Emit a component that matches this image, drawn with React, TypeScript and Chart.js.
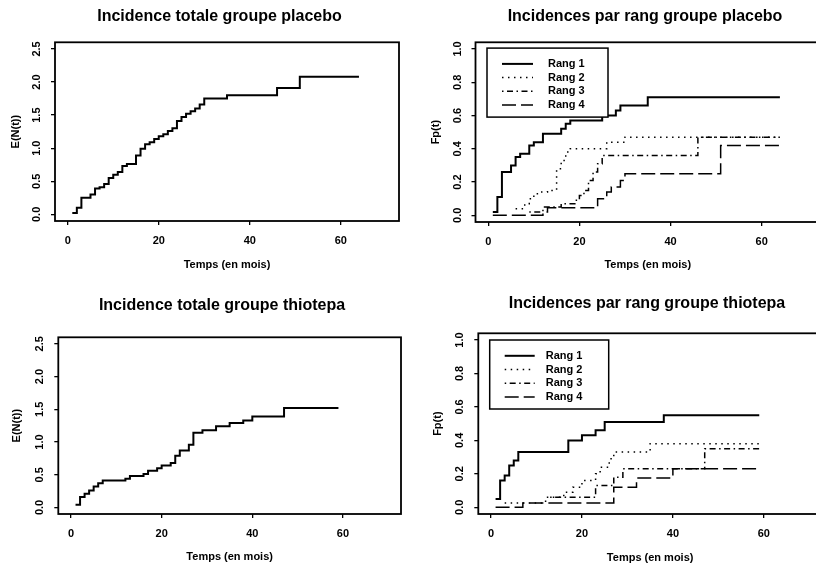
import React, { useEffect, useRef } from 'react';
import { Chart, registerables } from 'chart.js';

Chart.register(...registerables);

const FONT = "'Liberation Sans', Arial, Helvetica, sans-serif";

// ---------- data ----------
const placeboTotalT = [1, 2, 3, 5, 6, 7, 8, 9, 10, 11, 12, 13, 15, 16, 17, 18, 19, 20, 21, 22, 23, 24, 25, 26, 27, 28, 29, 30, 35, 46, 51, 64];
const placeboTotalV = [0.02, 0.10, 0.25, 0.30, 0.39, 0.41, 0.46, 0.55, 0.60, 0.64, 0.73, 0.76, 0.89, 0.99, 1.06, 1.09, 1.14, 1.18, 1.21, 1.26, 1.30, 1.41, 1.47, 1.52, 1.56, 1.60, 1.66, 1.75, 1.80, 1.91, 2.08, 2.08];

const thiotepaTotalT = [1, 2, 3, 4, 5, 6, 7, 12, 13, 16, 17, 19, 20, 22, 23, 24, 26, 27, 29, 32, 35, 38, 40, 47, 59];
const thiotepaTotalV = [0.04, 0.16, 0.21, 0.26, 0.32, 0.37, 0.41, 0.44, 0.48, 0.51, 0.56, 0.60, 0.64, 0.68, 0.79, 0.87, 0.96, 1.14, 1.18, 1.24, 1.29, 1.33, 1.39, 1.52, 1.52];

const placeboR1T = [1, 2, 3, 5, 6, 7, 9, 10, 12, 16, 17, 18, 25, 28, 29, 35, 64];
const placeboR1V = [0.02, 0.11, 0.26, 0.30, 0.35, 0.37, 0.42, 0.44, 0.49, 0.52, 0.55, 0.57, 0.60, 0.63, 0.66, 0.71, 0.71];
const placeboR2T = [6, 8, 9, 10, 11, 13, 15, 16, 17, 18, 26, 30, 64];
const placeboR2V = [0.04, 0.07, 0.10, 0.13, 0.14, 0.15, 0.28, 0.33, 0.38, 0.40, 0.44, 0.47, 0.47];
const placeboR3T = [9, 12, 16, 19, 20, 21, 22, 23, 24, 25, 46, 64];
const placeboR3V = [0.02, 0.05, 0.07, 0.09, 0.12, 0.15, 0.21, 0.26, 0.31, 0.36, 0.47, 0.47];
const placeboR4T = [1, 12, 13, 24, 26, 27, 29, 30, 51, 64];
const placeboR4V = [0.0, 0.02, 0.045, 0.10, 0.14, 0.17, 0.21, 0.25, 0.42, 0.42];

const thiotepaR1T = [1, 2, 3, 4, 5, 6, 17, 20, 23, 25, 38, 59];
const thiotepaR1V = [0.05, 0.16, 0.19, 0.25, 0.28, 0.33, 0.40, 0.43, 0.46, 0.51, 0.55, 0.55];
const thiotepaR2T = [3, 12, 16, 18, 20, 23, 24, 26, 27, 35, 59];
const thiotepaR2V = [0.025, 0.06, 0.09, 0.12, 0.16, 0.20, 0.24, 0.29, 0.33, 0.38, 0.38];
const thiotepaR3T = [13, 23, 27, 29, 47, 59];
const thiotepaR3V = [0.06, 0.13, 0.18, 0.23, 0.35, 0.35];
const thiotepaR4T = [1, 7, 27, 32, 40, 59];
const thiotepaR4V = [0.0, 0.025, 0.12, 0.175, 0.23, 0.23];

const rankLabels = ['Rang 1', 'Rang 2', 'Rang 3', 'Rang 4'];
const xTickValues = [0, 20, 40, 60];
const totalYTickValues = [0, 0.5, 1.0, 1.5, 2.0, 2.5];
const rankYTickValues = [0, 0.2, 0.4, 0.6, 0.8, 1.0];
const xTitle = 'Temps (en mois)';

// ---------- helpers ----------
const pts = (t: number[], v: number[]) => t.map((x, i) => ({ x, y: v[i] }));

const rankStyles = [
  { borderWidth: 2, borderDash: [] as number[] },
  { borderWidth: 1.5, borderDash: [1.5, 4.5] },
  { borderWidth: 1.5, borderDash: [1.5, 3.5, 6, 3.5] },
  { borderWidth: 1.5, borderDash: [14, 5] },
];

function stepDataset(label: string, t: number[], v: number[], width: number, dash: number[]) {
  return {
    label,
    data: pts(t, v),
    borderColor: '#000',
    backgroundColor: '#000',
    borderWidth: width,
    borderDash: dash,
    borderCapStyle: 'butt',
    stepped: 'before',
    pointRadius: 0,
    fill: false,
    tension: 0,
    yAxisID: 'y',
  };
}

const framePlugin = {
  id: 'frameBox',
  afterDatasetsDraw(chart: any) {
    const { ctx, chartArea: a } = chart;
    ctx.save();
    ctx.setLineDash([]);
    ctx.strokeStyle = '#000';
    ctx.lineWidth = 1.8;
    ctx.strokeRect(a.left, a.top, a.right - a.left, a.bottom - a.top);
    ctx.restore();
  },
};

const rangLegendPlugin = {
  id: 'rangLegend',
  afterDraw(chart: any, _args: any, opts: any) {
    if (!opts || !opts.show) return;
    const { ctx, chartArea: a } = chart;
    const x0 = a.left + opts.dx;
    const y0 = a.top + opts.dy;
    ctx.save();
    ctx.setLineDash([]);
    ctx.fillStyle = '#fff';
    ctx.fillRect(x0, y0, opts.w, opts.h);
    ctx.strokeStyle = '#000';
    ctx.lineWidth = 1.5;
    ctx.strokeRect(x0, y0, opts.w, opts.h);
    chart.data.datasets.forEach((ds: any, i: number) => {
      const y = y0 + opts.row0 + i * opts.rowStep;
      ctx.beginPath();
      ctx.setLineDash(ds.borderDash || []);
      ctx.lineWidth = ds.borderWidth;
      ctx.lineCap = 'butt';
      ctx.moveTo(x0 + opts.lx0, y);
      ctx.lineTo(x0 + opts.lx1, y);
      ctx.stroke();
      ctx.setLineDash([]);
      ctx.fillStyle = '#000';
      ctx.font = `bold 11px ${FONT}`;
      ctx.textBaseline = 'middle';
      ctx.textAlign = 'left';
      ctx.fillText(ds.label, x0 + opts.tx, y);
    });
    ctx.restore();
  },
};

type Spec = {
  L: number; T: number; W: number; H: number;
  padR: number; yWidth: number; rWidth: number;
  titleTop: number; titleBottom: number;
  yTitlePad: number; xTitlePadBottom: number;
  title: string; yTitle: string;
  yMin: number; yMax: number; yTicks: number[];
  datasets: any[];
  legend?: any;
};

function makeConfig(s: Spec): any {
  const tickFont = { family: FONT, size: 11, weight: 'bold', lineHeight: 1.2 };
  return {
    type: 'line',
    data: { datasets: s.datasets },
    options: {
      responsive: false,
      animation: false,
      events: [],
      layout: { padding: { left: 0, right: s.padR, top: 0, bottom: 0 } },
      plugins: {
        legend: { display: false },
        tooltip: { enabled: false },
        title: {
          display: true,
          text: s.title,
          color: '#000',
          font: { family: FONT, size: 16, weight: 'bold', lineHeight: 1.2 },
          padding: { top: s.titleTop, bottom: s.titleBottom },
        },
        rangLegend: s.legend ? { show: true, ...s.legend } : { show: false },
      },
      scales: {
        x: {
          type: 'linear',
          min: -2.8,
          max: 72.8,
          afterBuildTicks: (sc: any) => { sc.ticks = xTickValues.map((v) => ({ value: v })); },
          afterFit: (sc: any) => { sc.height = 60; },
          border: { display: false },
          grid: { display: true, drawOnChartArea: false, drawTicks: true, tickLength: 4, color: '#000', lineWidth: 1.3 },
          ticks: {
            autoSkip: false,
            maxRotation: 0,
            padding: 9.6,
            color: '#000',
            font: tickFont,
            callback: (v: any) => String(v),
          },
          title: {
            display: true,
            text: xTitle,
            color: '#000',
            font: tickFont,
            padding: { top: 0, bottom: s.xTitlePadBottom },
          },
        },
        y: {
          type: 'linear',
          position: 'left',
          min: s.yMin,
          max: s.yMax,
          afterBuildTicks: (sc: any) => { sc.ticks = s.yTicks.map((v) => ({ value: v })); },
          afterFit: (sc: any) => { sc.width = s.yWidth; },
          border: { display: false },
          grid: { display: true, drawOnChartArea: false, drawTicks: true, tickLength: 4, color: '#000', lineWidth: 1.3 },
          ticks: {
            autoSkip: false,
            minRotation: 90,
            maxRotation: 90,
            crossAlign: 'center',
            padding: 6.3,
            color: '#000',
            font: tickFont,
            callback: (v: any) => Number(v).toFixed(1),
          },
          title: {
            display: true,
            text: s.yTitle,
            color: '#000',
            font: tickFont,
            padding: { top: s.yTitlePad, bottom: 0 },
          },
        },
        // empty right-hand margin (R leaves this space; keeps the title where R centred it)
        yMargin: {
          type: 'linear',
          position: 'right',
          display: true,
          min: 0,
          max: 1,
          afterFit: (sc: any) => { sc.width = s.rWidth; },
          border: { display: false },
          grid: { display: false },
          ticks: { display: false },
          title: { display: false },
        },
      },
    },
    plugins: [framePlugin, rangLegendPlugin],
  };
}

function rankSets(tv: [number[], number[]][]) {
  return tv.map(([t, v], i) => stepDataset(rankLabels[i], t, v, rankStyles[i].borderWidth, rankStyles[i].borderDash));
}

const specs: Spec[] = [
  {
    L: 0, T: 0, W: 449, H: 281, padR: 10, yWidth: 55, rWidth: 40,
    titleTop: 6.6, titleBottom: 16.5, yTitlePad: 8.9, xTitlePadBottom: 9.2,
    title: 'Incidence totale groupe placebo', yTitle: 'E(N(t))',
    yMin: -0.1, yMax: 2.6, yTicks: totalYTickValues,
    datasets: [stepDataset('placebo', placeboTotalT, placeboTotalV, 2, [])],
  },
  {
    L: 420, T: 0, W: 460, H: 282, padR: 10, yWidth: 55.5, rWidth: 50,
    titleTop: 6.6, titleBottom: 16.5, yTitlePad: 9.4, xTitlePadBottom: 10.2,
    title: 'Incidences par rang groupe placebo', yTitle: 'Fp(t)',
    yMin: -0.04, yMax: 1.04, yTicks: rankYTickValues,
    datasets: rankSets([[placeboR1T, placeboR1V], [placeboR2T, placeboR2V], [placeboR3T, placeboR3V], [placeboR4T, placeboR4V]]),
    legend: { dx: 11.5, dy: 5.8, w: 121, h: 69, lx0: 15, lx1: 46, tx: 61, row0: 15.8, rowStep: 13.7 },
  },
  {
    L: 0, T: 288, W: 454, H: 286, padR: 10, yWidth: 58.3, rWidth: 43,
    titleTop: 7.9, titleBottom: 22.2, yTitlePad: 10.6, xTitlePadBottom: 10.2,
    title: 'Incidence totale groupe thiotepa', yTitle: 'E(N(t))',
    yMin: -0.1, yMax: 2.6, yTicks: totalYTickValues,
    datasets: [stepDataset('thiotepa', thiotepaTotalT, thiotepaTotalV, 2, [])],
  },
  {
    L: 420, T: 288, W: 464, H: 286, padR: 10, yWidth: 58.3, rWidth: 52,
    titleTop: 5.9, titleBottom: 20.2, yTitlePad: 11.7, xTitlePadBottom: 9.4,
    title: 'Incidences par rang groupe thiotepa', yTitle: 'Fp(t)',
    yMin: -0.04, yMax: 1.04, yTicks: rankYTickValues,
    datasets: rankSets([[thiotepaR1T, thiotepaR1V], [thiotepaR2T, thiotepaR2V], [thiotepaR3T, thiotepaR3V], [thiotepaR4T, thiotepaR4V]]),
    legend: { dx: 11.4, dy: 6.7, w: 119, h: 69, lx0: 15, lx1: 45, tx: 56, row0: 15.8, rowStep: 13.7 },
  },
];

function Panel({ spec }: { spec: Spec }) {
  const ref = useRef<HTMLCanvasElement>(null);
  useEffect(() => {
    if (!ref.current) return;
    const chart = new Chart(ref.current, makeConfig(spec));
    return () => chart.destroy();
  }, [spec]);
  return (
    <canvas
      ref={ref}
      width={spec.W}
      height={spec.H}
      style={{ position: 'absolute', left: spec.L, top: spec.T, width: spec.W, height: spec.H }}
    />
  );
}

export default function App() {
  return (
    <div style={{ position: 'fixed', left: 0, top: 0, width: 816, height: 569, overflow: 'hidden', background: '#fff' }}>
      {specs.map((s, i) => (
        <Panel key={i} spec={s} />
      ))}
    </div>
  );
}
